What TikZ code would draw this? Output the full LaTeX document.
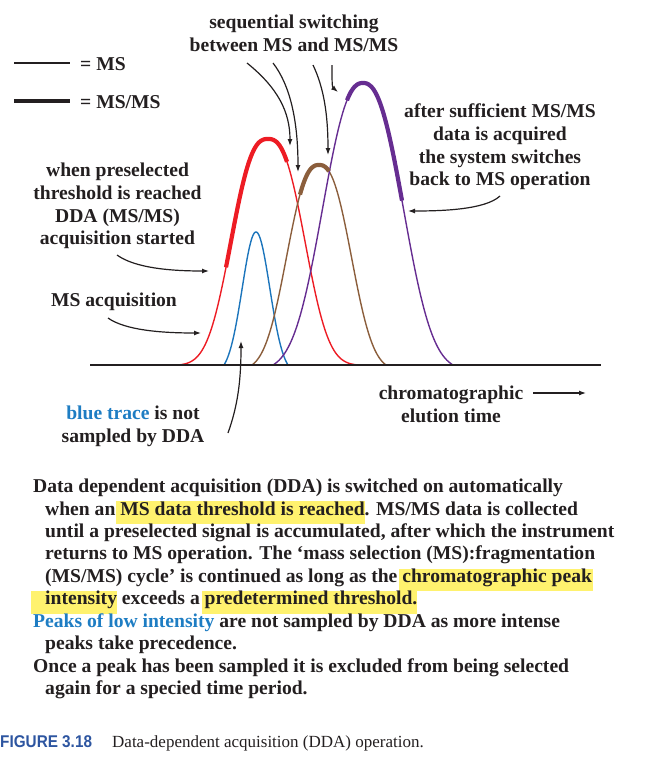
\documentclass[tikz,border=0pt]{standalone}
\usepackage{fontspec}
\setmainfont{Liberation Serif}
\newfontfamily\capsans[FakeStretch=0.9]{Liberation Sans}
\usetikzlibrary{arrows.meta}
\definecolor{ink}{RGB}{35,31,32}
\definecolor{pkred}{RGB}{237,28,36}
\definecolor{pkblue}{RGB}{28,117,188}
\definecolor{pkbrown}{RGB}{139,94,60}
\definecolor{pkpurple}{RGB}{102,45,145}
\definecolor{txtblue}{RGB}{30,125,195}
\definecolor{capblue}{RGB}{45,85,160}
\definecolor{hly}{RGB}{255,242,110}
\setlength{\fboxsep}{0pt}
\newcommand\hlx[3]{\leavevmode\rlap{\hspace*{-#1}\colorbox{hly}{\rule[-9pt]{0pt}{20.5pt}\hspace*{#1}\phantom{#2}\hspace*{#3}}}#2}
\tikzset{
  lbl/.style={align=center, inner sep=0pt, text=ink, font=\bfseries\fontsize{19.6}{22.6}\selectfont},
  para/.style={anchor=base west, inner sep=0pt, text=ink, font=\bfseries\fontsize{19.6}{22.45}\selectfont},
  arr/.style={ink, line width=1.2pt, -{Latex[length=7pt,width=5pt]}},
  thin/.style={line width=1.4pt, samples=120},
  thick/.style={line width=4.2pt, samples=60},
  declare function={bell(\x,\c,\a,\p,\w)=(exp(-pow(abs(\x-\c)/\a+0.0001,\p))-exp(-pow(\w/\a,\p)))/(1-exp(-pow(\w/\a,\p)));}
}
\begin{document}
\begin{tikzpicture}[x=1pt,y=-1pt]
\useasboundingbox (0,0) rectangle (646,758);
% peaks
\draw[pkred,thin,domain=178:358] plot (\x,{365-226*bell(\x,268,45,2.6,90)});
\draw[pkblue,thin,domain=224:288] plot (\x,{365-133*bell(\x,256,19.5,2,32)});
\draw[pkbrown,thin,domain=252:386] plot (\x,{365-200*bell(\x,319,40,2.5,67)});
\draw[pkpurple,thin,domain=273:453] plot (\x,{365-282*bell(\x,363,51,2.4,90)});
\draw[pkred,thick,domain=226:287] plot (\x,{365-226*bell(\x,268,45,2.6,90)});
\draw[pkbrown,thick,domain=300:329] plot (\x,{365-200*bell(\x,319,40,2.5,67)});
\draw[pkpurple,thick,domain=347:402] plot (\x,{365-282*bell(\x,363,51,2.4,90)});
% axis
\coordinate (ax0) at (90,365);
\coordinate (ax1) at (601,365);
\draw[ink, line width=2pt] (ax0) -- (ax1);
% legend
\coordinate (l1a) at (14,63); \coordinate (l1b) at (70,63);
\coordinate (l2a) at (14,101); \coordinate (l2b) at (70,101);
\draw[ink, line width=1.5pt] (l1a) -- (l1b);
\draw[ink, line width=4pt] (l2a) -- (l2b);
\node[lbl, anchor=west] (lgms) at (80,64.5) {= MS};
\node[lbl, anchor=west] (lgmsms) at (80,101.7) {= MS/MS};
% labels
\node[lbl] (title) at (294,33.5) {sequential switching\\between MS and MS/MS};
\node[lbl] (pre) at (117.5,206) {when preselected\\threshold is reached\\DDA (MS/MS)\\acquisition started};
\node[lbl] (msacq) at (114,302) {MS acquisition};
\node[lbl] (after) at (500,147) {after sufficient MS/MS\\data is acquired\\the system switches\\back to MS operation};
\node[lbl] (chrom) at (451,404.5) {chromatographic\\elution time};
\node[lbl] (bluet) at (133,426.5) {\textcolor{txtblue}{blue trace} is not\\sampled by DDA};
% arrows
\coordinate (a1s) at (247,63); \coordinate (a1e) at (290,146);
\coordinate (a2s) at (273,63); \coordinate (a2e) at (298,172);
\coordinate (a3s) at (313,65); \coordinate (a3e) at (328,155);
\coordinate (a4s) at (332,65); \coordinate (a4e) at (338,92);
\coordinate (a5s) at (117,255); \coordinate (a5e) at (209,271);
\coordinate (a6s) at (108,318); \coordinate (a6e) at (201,333);
\coordinate (a7s) at (500,196); \coordinate (a7e) at (408,211);
\coordinate (a8s) at (228,433); \coordinate (a8e) at (241,341);
\coordinate (a9s) at (533,393); \coordinate (a9e) at (586,393);
\draw[arr] (a1s) .. controls (278,88) and (290,112) .. (a1e);
\draw[arr] (a2s) .. controls (290,85) and (298,120) .. (a2e);
\draw[arr] (a3s) .. controls (324,88) and (328,115) .. (a3e);
\draw[arr] (a4s) .. controls (332,80) and (332,87) .. (a4e);
\draw[arr] (a5s) .. controls (135,268) and (170,271) .. (a5e);
\draw[arr] (a6s) .. controls (125,330) and (160,333) .. (a6e);
\draw[arr] (a7s) .. controls (485,210) and (440,211) .. (a7e);
\draw[arr] (a8s) .. controls (238,405) and (241,380) .. (a8e);
\draw[arr] (a9s) -- (a9e);
% paragraph
\node[para] (p1) at (33,492.6) {Data dependent acquisition (DDA) is switched on automatically};
\node[para] (p2) at (45,515.05) {when an \hlx{4pt}{MS data threshold is reached}{0pt}. MS/MS data is collected};
\node[para] (p3) at (45,537.5) {until a preselected signal is accumulated, after which the instrument};
\node[para] (p4) at (45,559.95) {returns to MS operation. The ‘mass selection (MS):fragmentation};
\node[para] (p5) at (45,582.4) {(MS/MS) cycle’ is continued as long as the \hlx{3pt}{chromatographic peak}{1pt}};
\node[para] (p6) at (45,604.85) {\hlx{14pt}{intensity}{0pt} exceeds a \hlx{3pt}{predetermined threshold.}{0pt}};
\node[para] (p7) at (33,627.3) {\textcolor{txtblue}{Peaks of low intensity} are not sampled by DDA as more intense};
\node[para] (p8) at (45,649.75) {peaks take precedence.};
\node[para] (p9) at (33,672.2) {Once a peak has been sampled it is excluded from being selected};
\node[para] (p10) at (45,694.65) {again for a specied time period.};
% caption
\node[anchor=base west, inner sep=0pt, text=capblue, font=\capsans\bfseries\fontsize{17}{20}\selectfont] (capnum) at (0,747) {FIGURE 3.18};
\node[anchor=base west, inner sep=0pt, text=ink, font=\fontsize{17}{20}\selectfont] (captxt) at (112,747) {Data-dependent acquisition (DDA) operation.};
\end{tikzpicture}
\end{document}
